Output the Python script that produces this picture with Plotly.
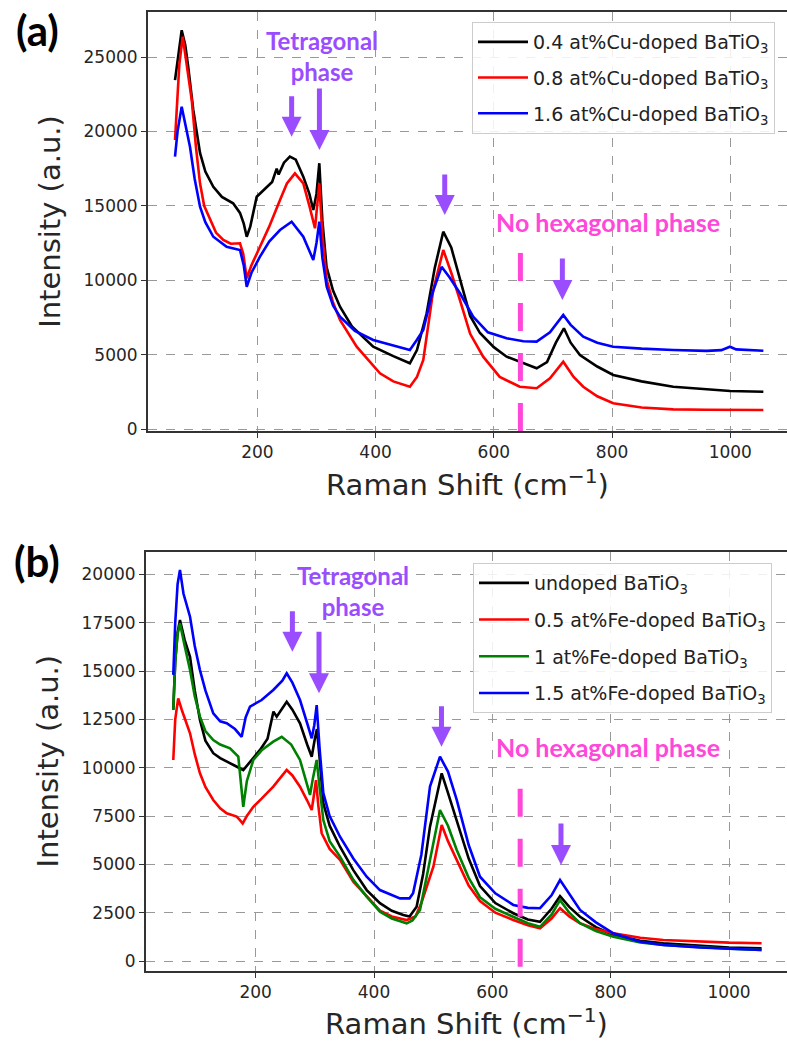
import plotly.graph_objects as go

# ---------------- Panel (a): Cu-doped BaTiO3 ----------------
cu04_x = [60.7, 63, 67, 72, 78, 83, 91.6, 97, 103, 112, 125.5, 140, 159, 170.6, 177, 182, 188, 198.9, 215, 225,
          232.7, 236, 245, 255, 265, 277.7, 288, 294.6, 300, 304.8, 310, 317, 328, 339.8, 360, 396, 430, 458, 470,
          486.4, 500, 514.5, 528, 542.7, 560, 576.6, 600, 621.7, 650, 672.5, 690, 705, 718.6, 730, 745.7, 775, 802,
          850, 903.5, 960, 1000, 1056]
cu04_y = [23450, 24100, 25500, 26800, 25800, 24350, 21440, 20000, 18550, 17300, 16280, 15600, 15170, 14520, 13800,
          12920, 13600, 15610, 16200, 16600, 17500, 17100, 17900, 18300, 18100, 16960, 15800, 14720, 15800, 17860,
          14000, 10900, 9300, 8220, 6900, 5530, 4900, 4415, 5300, 7775, 10800, 13260, 12200, 10010, 7600, 6450,
          5500, 4860, 4400, 4080, 4500, 5800, 6770, 5800, 4970, 4200, 3630, 3200, 2840, 2650, 2550, 2500]

cu08_x = [60.7, 64, 68, 73.7, 80, 89, 96, 103, 110, 119.9, 130, 142.4, 155, 170.6, 176, 182, 190, 204.4, 220,
          238.3, 250, 263.6, 277.7, 288, 297.5, 304.8, 310, 317.3, 328, 339.8, 368, 407.4, 430, 458, 470, 480.7,
          497.6, 514.5, 528, 542.7, 560, 582, 610, 644, 672.5, 695, 717.5, 735, 751.3, 775, 802, 850, 903.5, 960,
          1056]
cu08_y = [19420, 21500, 24500, 26370, 24500, 22110, 19000, 16510, 15000, 14050, 13200, 12700, 12450, 12480, 11800,
          10130, 11000, 12250, 13600, 15390, 16500, 17180, 16510, 15000, 13490, 16510, 13000, 10010, 8500, 7330,
          5530, 3740, 3200, 2840, 3500, 4640, 9340, 12030, 10500, 8670, 6400, 4860, 3500, 2840, 2740, 3400, 4520,
          3500, 2840, 2200, 1730, 1450, 1320, 1290, 1280]

cu16_x = [60.7, 65, 72, 78, 86, 94, 103, 112, 125.5, 148, 170.6, 177, 182, 190, 204.4, 220, 238.3, 258, 277.7,
          294.6, 300, 304.8, 310, 317.3, 328, 339.8, 365, 396, 430, 458, 470, 480.7, 495, 511.7, 525, 542.8, 565,
          590, 621.7, 650, 672.5, 695, 717.5, 730, 751.3, 775, 802, 850, 903.5, 960, 985, 999.5, 1010, 1056]
cu16_y = [18300, 20000, 21660, 20500, 18970, 16800, 14940, 13900, 12920, 12250, 12030, 11000, 9560, 10500, 11580,
          12600, 13370, 13930, 12920, 11360, 12500, 13930, 11500, 9560, 8300, 7550, 6600, 5980, 5600, 5310, 6000,
          6650, 9000, 10900, 10200, 9120, 7550, 6500, 6100, 5900, 5870, 6500, 7660, 7000, 6200, 5800, 5530, 5400,
          5310, 5250, 5300, 5530, 5350, 5260]

# ---------------- Panel (b): Fe-doped BaTiO3 ----------------
und_x = [60.7, 64, 68, 72, 80, 89, 97, 105.8, 115, 128.3, 140, 151, 165, 179, 190, 207.3, 220, 230, 235.5, 252.4,
         262, 274.9, 287, 294.7, 300, 303.5, 308, 314.3, 325, 342.5, 365, 387.6, 410, 430, 449.5, 460, 472, 483,
         494.6, 514.4, 525, 539.8, 560, 579.1, 605, 635.4, 660, 680.6, 700, 714.4, 730, 748.2, 775, 804.5, 850,
         889, 950, 1000, 1055]
und_y = [13000, 15500, 17000, 17640, 16600, 15740, 14000, 12470, 11400, 10750, 10500, 10310, 10100, 9880, 10300,
         10920, 11500, 12900, 12640, 13410, 13000, 12300, 11200, 10570, 11500, 12000, 10500, 8160, 7000, 5910, 4700,
         3670, 2990, 2600, 2380, 2300, 2810, 4500, 6950, 9710, 8700, 7290, 5300, 3880, 3000, 2470, 2150, 2030, 2700,
         3350, 2800, 2290, 1750, 1350, 1050, 920, 780, 700, 660]

fe05_x = [60.7, 64, 69, 75, 89, 97, 105.8, 115, 128.3, 140, 151, 167.9, 173, 178, 185, 196, 210, 229.7, 245, 252.4,
          262, 274.9, 287, 294.7, 298, 301.9, 306, 311.5, 325, 342.5, 365, 387.6, 410, 430, 455.2, 470, 480, 500.3,
          514.4, 525, 539.8, 560, 579.1, 605, 635.4, 660, 680.6, 700, 714.4, 730, 748.2, 775, 804.5, 850, 889, 950,
          1000, 1055]
fe05_y = [10400, 12500, 13590, 13000, 11780, 10700, 9710, 9000, 8330, 7900, 7640, 7470, 7300, 7120, 7500, 7980,
          8400, 9020, 9600, 9880, 9600, 9020, 8300, 7810, 8500, 9360, 8000, 6610, 5800, 5230, 4100, 3330, 2600, 2300,
          2120, 2300, 3000, 4880, 7040, 6200, 5230, 3900, 3100, 2500, 2120, 1850, 1690, 2200, 2730, 2300, 1950, 1650,
          1430, 1200, 1090, 1000, 950, 920]

fe10_x = [60.7, 64, 68, 72, 80, 89, 97, 105.8, 115, 128.3, 140, 156.6, 170.6, 175, 179, 185, 196, 210, 229.7, 244,
          260, 274.9, 285, 291.8, 297, 303.1, 308, 314.3, 325, 342.5, 365, 387.6, 410, 430, 455.2, 465, 477.7, 494.6,
          511.5, 525, 539.8, 560, 579.1, 605, 635.4, 660, 680.6, 700, 714.4, 730, 748.2, 775, 804.5, 850, 889, 950,
          1000, 1055]
fe10_y = [12990, 15500, 16900, 17470, 16300, 15050, 13700, 12640, 11900, 11430, 11200, 11000, 10570, 9000, 7980,
          9300, 10400, 10900, 11350, 11600, 11200, 10400, 9300, 8590, 9500, 10400, 9000, 7290, 6200, 5400, 4200, 3330,
          2550, 2200, 1950, 2100, 2640, 5230, 7810, 7000, 5740, 4300, 3300, 2700, 2290, 1950, 1770, 2400, 3150, 2500,
          1950, 1550, 1260, 960, 830, 700, 630, 570]

fe15_x = [60.7, 64, 68, 72, 78, 89, 97, 105.8, 115, 128.3, 140, 151, 165, 176.3, 183, 190.4, 210, 229.7, 245,
          252.4, 262, 274.9, 287, 294.7, 299, 303.1, 308, 314.3, 325, 342.5, 365, 387.6, 410, 443.9, 460, 466, 480,
          494.6, 511.5, 525, 539.8, 560, 579.1, 605, 635.4, 660, 680.6, 700, 714.4, 730, 748.2, 775, 804.5, 850, 889,
          950, 1000, 1055]
fe15_y = [14800, 17500, 19500, 20230, 19000, 17810, 16300, 15050, 14000, 12810, 12400, 12300, 12000, 11600, 12600,
          13160, 13500, 14020, 14500, 14880, 14400, 13500, 12300, 11520, 12200, 13240, 11000, 8680, 7500, 6430, 5300,
          4360, 3670, 3240, 3240, 3500, 5500, 9020, 10570, 9800, 8330, 6000, 4360, 3500, 2900, 2750, 2730, 3400, 4190,
          3500, 2640, 2000, 1430, 1000, 830, 700, 620, 570]

# tick labels
x_ticks = [200, 400, 600, 800, 1000]
ya_ticks = [0, 5000, 10000, 15000, 20000, 25000]
yb_ticks = [0, 2500, 5000, 7500, 10000, 12500, 15000, 17500, 20000]

names_a = ["0.4 at%Cu-doped BaTiO<sub>3</sub>", "0.8 at%Cu-doped BaTiO<sub>3</sub>", "1.6 at%Cu-doped BaTiO<sub>3</sub>"]
names_b = ["undoped BaTiO<sub>3</sub>", "0.5 at%Fe-doped BaTiO<sub>3</sub>", "1 at%Fe-doped BaTiO<sub>3</sub>",
           "1.5 at%Fe-doped BaTiO<sub>3</sub>"]

BLACK, RED, GREEN, BLUE = "#000000", "#ff0000", "#008000", "#0000ff"
PURPLE = "#9a4dff"
PINK = "#ff47da"
LW = 2.6

fig = go.Figure()
for nm, xs, ys, c, g in [(names_a[0], cu04_x, cu04_y, BLACK, "a1"),
                         (names_a[1], cu08_x, cu08_y, RED, "a2"),
                         (names_a[2], cu16_x, cu16_y, BLUE, "a3")]:
    fig.add_trace(go.Scatter(x=xs, y=ys, mode="lines", name=nm, line=dict(color=c, width=LW),
                             xaxis="x", yaxis="y", legend="legend", legendgroup=g))
for nm, xs, ys, c, g in [(names_b[0], und_x, und_y, BLACK, "b1"),
                         (names_b[1], fe05_x, fe05_y, RED, "b2"),
                         (names_b[2], fe10_x, fe10_y, GREEN, "b3"),
                         (names_b[3], fe15_x, fe15_y, BLUE, "b4")]:
    fig.add_trace(go.Scatter(x=xs, y=ys, mode="lines", name=nm, line=dict(color=c, width=LW),
                             xaxis="x2", yaxis="y2", legend="legend2", legendgroup=g))

W, H = 787, 1046
TICKFONT = dict(family="DejaVu Sans", size=17, color="#262626")
TITLEFONT = dict(family="DejaVu Sans", size=29, color="#262626")
LEGFONT = dict(family="DejaVu Sans", size=19, color="#222222")

def xax(domain, rng, anchor):
    return dict(domain=domain, range=rng, anchor=anchor, tickvals=x_ticks, ticktext=[str(v) for v in x_ticks],
                showgrid=True, gridcolor="#999999", griddash="dash", gridwidth=1, zeroline=False,
                showline=True, linecolor="#333333", linewidth=2, mirror=True,
                ticks="outside", ticklen=5, tickcolor="#333333", tickfont=TICKFONT,
                title=dict(text="Raman Shift (cm<sup>\u22121</sup>)", font=TITLEFONT, standoff=13))

def yax(domain, rng, anchor, ticks):
    return dict(domain=domain, range=rng, anchor=anchor, tickvals=ticks, ticktext=[str(v) for v in ticks],
                showgrid=True, gridcolor="#999999", griddash="dash", gridwidth=1, zeroline=False,
                showline=True, linecolor="#333333", linewidth=2, mirror=False,
                ticks="outside", ticklen=5, tickcolor="#333333", tickfont=TICKFONT,
                title=dict(text="Intensity (a.u.)", font=TITLEFONT, standoff=14))

fig.update_layout(
    template="none", width=W, height=H, margin=dict(l=0, r=0, t=0, b=0),
    paper_bgcolor="white", plot_bgcolor="white",
    xaxis=xax([148 / W, 1.0], [15, 1096], "y"),
    yaxis=yax([1 - 431 / H, 1 - 12 / H], [-134, 28024], "x", ya_ticks),
    xaxis2=xax([146 / W, 1.0], [14.6, 1098], "y2"),
    yaxis2=yax([1 - 970.7 / H, 1 - 551.7 / H], [-502, 21175], "x2", yb_ticks),
    legend=dict(x=472 / W, y=1 - 22 / H, xanchor="left", yanchor="top", bgcolor="rgba(255,255,255,0.85)",
                bordercolor="#cccccc", borderwidth=1, font=LEGFONT, tracegroupgap=8, itemwidth=50),
    legend2=dict(x=473 / W, y=1 - 563 / H, xanchor="left", yanchor="top", bgcolor="rgba(255,255,255,0.85)",
                 bordercolor="#cccccc", borderwidth=1, font=LEGFONT, tracegroupgap=9, itemwidth=50),
    showlegend=True,
)

ann = []
# panel labels
ann.append(dict(text="<b>(a)</b>", xref="paper", yref="paper", x=37 / W, y=1 - 30 / H, showarrow=False,
                font=dict(family="Lato", size=42, color="black"), xanchor="center", yanchor="middle"))
ann.append(dict(text="<b>(b)</b>", xref="paper", yref="paper", x=37 / W, y=1 - 561 / H, showarrow=False,
                font=dict(family="Lato", size=42, color="black"), xanchor="center", yanchor="middle"))
# Tetragonal phase texts
ann.append(dict(text="<b>Tetragonal<br>phase</b>", xref="x", yref="y", x=309, y=(429 - 56) / 14.88 * 1000,
                showarrow=False, font=dict(family="Lato", size=24, color=PURPLE), xanchor="center",
                yanchor="middle"))
ann.append(dict(text="<b>Tetragonal<br>phase</b>", xref="x2", yref="y2", x=364, y=(961 - 591) / 19.33 * 1000,
                showarrow=False, font=dict(family="Lato", size=24, color=PURPLE), xanchor="center",
                yanchor="middle"))
# No hexagonal phase
ann.append(dict(text="<b>No hexagonal phase</b>", xref="x", yref="y", x=794, y=13930, showarrow=False,
                font=dict(family="Lato", size=25, color=PINK), xanchor="center", yanchor="middle"))
ann.append(dict(text="<b>No hexagonal phase</b>", xref="x2", yref="y2", x=796, y=11086, showarrow=False,
                font=dict(family="Lato", size=25, color=PINK), xanchor="center", yanchor="middle"))

# arrows (tip x, tip y, tail offset px)
arrows_a = [(258, 19644, -42), (305, 18750, -63), (517, 14382, -42), (716, 8669, -43)]
arrows_b = [(262, 16001, -42), (307, 13849, -63), (514, 11086, -42), (716, 4966, -43)]
for (xa, ya, off), (xr, yr) in [(a, ("x", "y")) for a in arrows_a] + [(a, ("x2", "y2")) for a in arrows_b]:
    ann.append(dict(text="", xref=xr, yref=yr, x=xa, y=ya, ax=0, ay=off, showarrow=True, arrowhead=2,
                    arrowsize=0.8, arrowwidth=5, arrowcolor=PURPLE, standoff=0))
fig.update_layout(annotations=ann)

# pink dashed vertical lines (no hexagonal phase)
fig.add_shape(type="line", xref="x", yref="y", x0=645, x1=645, y0=-130, y1=12800,
              line=dict(color=PINK, width=5, dash="28px,22px"))
fig.add_shape(type="line", xref="x2", yref="y2", x0=647, x1=647, y0=-300, y1=9700,
              line=dict(color=PINK, width=5, dash="28px,22px"))

fig.write_html("out.html")
